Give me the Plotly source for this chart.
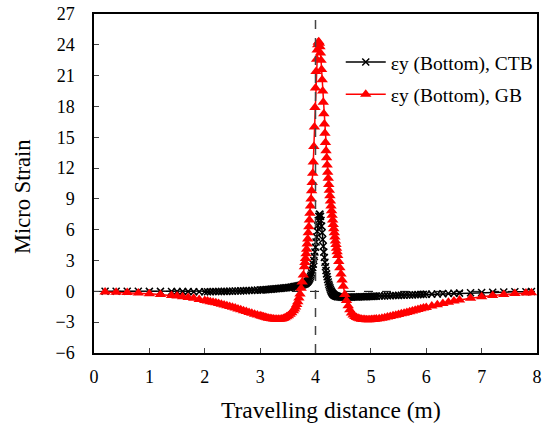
import plotly.graph_objects as go

# Travelling distance (m)
x_dist = [
    0.2, 0.4, 0.6, 0.8, 1.0, 1.2, 1.4,
    1.5, 1.6, 1.7, 1.8, 1.9, 2.0,
    2.05, 2.1, 2.15, 2.2, 2.25, 2.3, 2.35, 2.4, 2.45, 2.5,
    2.55, 2.6, 2.65, 2.7, 2.75, 2.8, 2.85, 2.9, 2.95, 3.0,
    3.03, 3.06, 3.09, 3.12, 3.15, 3.18, 3.21, 3.24, 3.27, 3.3,
    3.33, 3.36, 3.39, 3.42, 3.45, 3.48, 3.51, 3.54, 3.57, 3.6,
    3.62, 3.64, 3.66, 3.68, 3.70, 3.72, 3.74, 3.76, 3.78, 3.80,
    3.81, 3.82, 3.83, 3.84, 3.85, 3.86, 3.87, 3.88, 3.89, 3.90,
    3.91, 3.92, 3.93, 3.94, 3.95, 3.96, 3.97, 3.98, 3.99, 4.00,
    4.01, 4.02, 4.03, 4.04, 4.05, 4.06, 4.07, 4.08, 4.09, 4.10,
    4.11, 4.12, 4.13, 4.14, 4.15, 4.16, 4.17, 4.18, 4.19, 4.20,
    4.21, 4.22, 4.23, 4.24, 4.25, 4.26, 4.27, 4.28, 4.29, 4.30,
    4.31, 4.32, 4.33, 4.34, 4.35, 4.36, 4.37, 4.38, 4.39, 4.40,
    4.42, 4.44, 4.46, 4.48, 4.50, 4.53, 4.56, 4.59, 4.62, 4.65,
    4.68, 4.71, 4.74, 4.77, 4.80, 4.83, 4.86, 4.89, 4.92, 4.95,
    4.98, 5.01, 5.04, 5.07, 5.10, 5.15, 5.20, 5.25, 5.30, 5.35,
    5.40, 5.45, 5.50, 5.55, 5.60, 5.65, 5.70, 5.75, 5.80, 5.85,
    5.90, 5.95, 6.00, 6.1, 6.2, 6.3, 6.4, 6.5, 6.6, 6.8,
    7.0, 7.2, 7.4, 7.6, 7.8, 7.9,
]

# εy (Bottom), GB
y_gb = [
    -0.05, -0.08, -0.12, -0.17, -0.23, -0.30, -0.40,
    -0.46, -0.52, -0.60, -0.68, -0.78, -0.88,
    -0.94, -1.00, -1.06, -1.12, -1.19, -1.26, -1.33, -1.40, -1.47, -1.55,
    -1.63, -1.71, -1.79, -1.88, -1.96, -2.05, -2.13, -2.22, -2.30, -2.38,
    -2.43, -2.48, -2.53, -2.57, -2.61, -2.64, -2.67, -2.69, -2.71, -2.72,
    -2.72, -2.71, -2.68, -2.63, -2.57, -2.48, -2.37, -2.24, -2.08, -1.88,
    -1.72, -1.52, -1.28, -1.00, -0.65, -0.25, 0.30, 0.90, 1.60, 2.40,
    2.80, 3.20, 3.65, 4.10, 4.60, 5.10, 5.70, 6.30, 6.95, 7.60,
    8.30, 9.00, 9.80, 10.60, 11.50, 12.60, 14.10, 16.00, 17.90, 19.80,
    21.40, 22.60, 23.50, 24.00, 24.25, 24.30, 24.15, 23.80, 23.20, 22.50,
    21.60, 20.60, 19.50, 18.40, 17.30, 16.30, 15.40, 14.50, 13.70, 13.00,
    12.30, 11.60, 11.00, 10.40, 9.85, 9.30, 8.80, 8.30, 7.85, 7.40,
    6.95, 6.50, 6.10, 5.70, 5.30, 4.90, 4.55, 4.20, 3.85, 3.50,
    2.90, 2.30, 1.70, 1.10, 0.50, -0.30, -0.90, -1.40, -1.80, -2.10,
    -2.30, -2.45, -2.55, -2.62, -2.67, -2.71, -2.73, -2.75, -2.76, -2.76,
    -2.76, -2.75, -2.74, -2.72, -2.70, -2.66, -2.61, -2.56, -2.50, -2.44,
    -2.38, -2.32, -2.25, -2.18, -2.12, -2.05, -1.98, -1.91, -1.84, -1.77,
    -1.70, -1.63, -1.56, -1.43, -1.30, -1.18, -1.06, -0.95, -0.85, -0.67,
    -0.52, -0.40, -0.30, -0.22, -0.16, -0.13,
]

# εy (Bottom), CTB
y_ctb = [
    0.02, 0.02, 0.01, 0.01, 0.00, 0.00, -0.01,
    -0.01, -0.02, -0.02, -0.03, -0.03, -0.03,
    -0.03, -0.03, -0.02, -0.02, -0.01, -0.01, 0.00, 0.00, 0.01, 0.02,
    0.03, 0.04, 0.05, 0.06, 0.07, 0.08, 0.09, 0.10, 0.12, 0.13,
    0.14, 0.15, 0.16, 0.18, 0.19, 0.20, 0.22, 0.23, 0.25, 0.26,
    0.27, 0.29, 0.30, 0.32, 0.34, 0.36, 0.38, 0.39, 0.41, 0.44,
    0.46, 0.48, 0.50, 0.52, 0.54, 0.57, 0.60, 0.63, 0.67, 0.72,
    0.75, 0.78, 0.82, 0.86, 0.91, 0.96, 1.03, 1.10, 1.20, 1.30,
    1.44, 1.60, 1.80, 2.05, 2.33, 2.65, 3.00, 3.40, 3.83, 4.30,
    4.80, 5.30, 5.85, 6.40, 6.90, 7.30, 7.50, 7.50, 7.30, 6.90,
    6.35, 5.70, 5.05, 4.40, 3.82, 3.30, 2.83, 2.40, 2.03, 1.70,
    1.42, 1.15, 0.92, 0.70, 0.52, 0.35, 0.20, 0.05, -0.05, -0.15,
    -0.22, -0.28, -0.33, -0.37, -0.40, -0.43, -0.46, -0.48, -0.50, -0.51,
    -0.53, -0.55, -0.56, -0.57, -0.57, -0.57, -0.57, -0.56, -0.56, -0.56,
    -0.55, -0.55, -0.54, -0.54, -0.53, -0.53, -0.52, -0.52, -0.51, -0.50,
    -0.50, -0.49, -0.49, -0.48, -0.47, -0.46, -0.45, -0.44, -0.43, -0.42,
    -0.41, -0.40, -0.39, -0.38, -0.37, -0.36, -0.35, -0.34, -0.33, -0.32,
    -0.31, -0.30, -0.29, -0.27, -0.25, -0.23, -0.21, -0.19, -0.17, -0.14,
    -0.11, -0.08, -0.06, -0.04, -0.03, -0.02,
]

x_ticks = [0, 1, 2, 3, 4, 5, 6, 7, 8]
y_ticks = [-6, -3, 0, 3, 6, 9, 12, 15, 18, 21, 24, 27]

FONT = "Liberation Serif"

fig = go.Figure()
fig.add_trace(go.Scatter(
    x=x_dist, y=y_ctb, mode="lines+markers", name="εy (Bottom), CTB",
    legendgroup="a",
    line=dict(color="black", width=1.5),
    marker=dict(symbol="x-thin-open", size=7, color="black",
                line=dict(color="black", width=1.5)),
))
fig.add_trace(go.Scatter(
    x=x_dist, y=y_gb, mode="lines+markers", name="εy (Bottom), GB",
    legendgroup="b",
    line=dict(color="red", width=1.5),
    marker=dict(symbol="triangle-up", size=10, color="red"),
))

fig.add_shape(type="line", xref="x", yref="paper", x0=4, x1=4, y0=0, y1=1,
              line=dict(color="#444444", width=1.5, dash="dash"), layer="above")
fig.add_shape(type="line", xref="paper", yref="y", x0=0, x1=1, y0=0, y1=0,
              line=dict(color="black", width=1, dash="dash"), layer="below")

fig.add_annotation(text="Travelling distance (m)", xref="paper", yref="paper",
                   x=0.534, y=-0.168, xanchor="center", yanchor="middle",
                   showarrow=False, font=dict(family=FONT, size=23.5, color="black"))
fig.add_annotation(text="Micro Strain", xref="paper", yref="paper",
                   x=-0.162, y=0.461, xanchor="center", yanchor="middle",
                   textangle=-90, showarrow=False,
                   font=dict(family=FONT, size=22.5, color="black"))

fig.update_layout(
    width=544, height=432,
    margin=dict(l=94, r=7, t=14, b=79, autoexpand=False),
    paper_bgcolor="white", plot_bgcolor="white",
    font=dict(family=FONT, size=18, color="black"),
    showlegend=True,
    legend=dict(x=0.557, y=0.915, xanchor="left", yanchor="top",
                bgcolor="rgba(0,0,0,0)", font=dict(family=FONT, size=19.5),
                tracegroupgap=4, traceorder="grouped", itemwidth=40),
)
fig.update_xaxes(
    range=[0, 8], tickvals=x_ticks, ticks="inside", ticklen=5,
    showgrid=False, zeroline=False, showline=True, linecolor="black",
    linewidth=1.5, mirror=True, tickfont=dict(family=FONT, size=18),
    ticklabelstandoff=7, automargin=False,
)
fig.update_yaxes(
    range=[-6, 27], tickvals=y_ticks, ticks="inside", ticklen=5,
    showgrid=False, zeroline=False, showline=True, linecolor="black",
    linewidth=1.5, mirror=True, tickfont=dict(family=FONT, size=18),
    ticklabelstandoff=14, automargin=False,
)

fig.write_html("out.html")
